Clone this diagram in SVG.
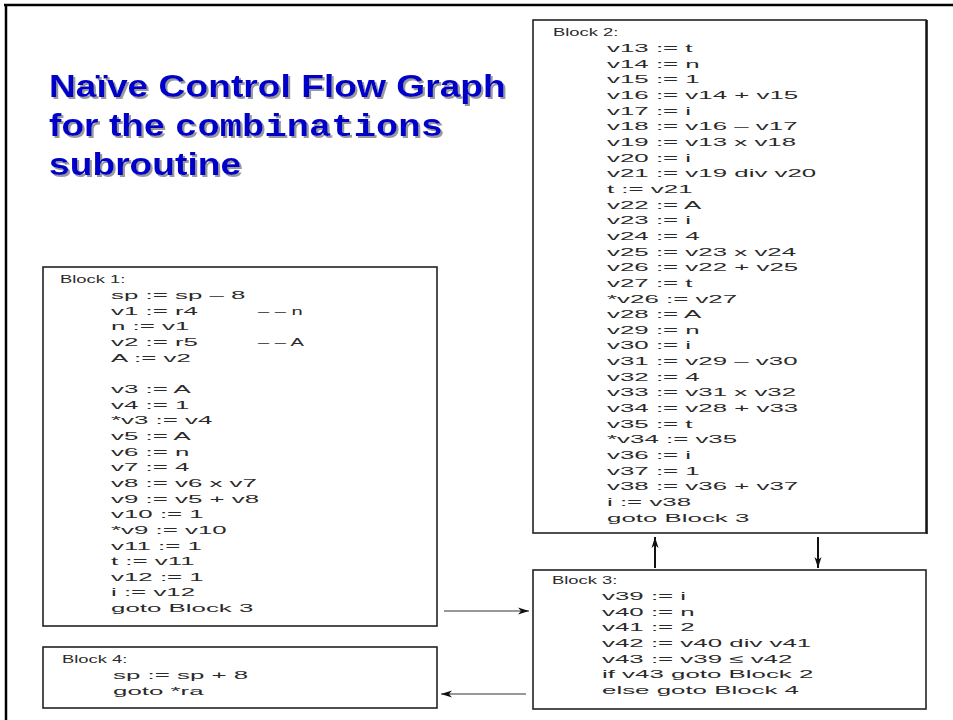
<svg xmlns="http://www.w3.org/2000/svg" width="953" height="720" viewBox="0 0 953 720">
<style>
.t{font-family:"Liberation Sans",Arial,sans-serif;font-size:11.5px;fill:#2a2a2a}
.box{fill:#fff;stroke:#222;stroke-width:1.6}
.cn{stroke:#333;stroke-width:1.2;fill:none}
.cnb{stroke:#111;stroke-width:2;fill:none}
.ti{font-family:"Liberation Sans",Arial,sans-serif;font-size:30.5px;font-weight:bold;fill:#0000c8}
.mono{font-family:"Liberation Mono","Courier New",monospace;font-weight:bold}
</style>
<defs>
<marker id="ah" markerWidth="12" markerHeight="8" refX="11" refY="4" orient="auto" markerUnits="userSpaceOnUse">
<path d="M0,0.5 L11,4 L0,7.5 L3,4 Z" fill="#111"/>
</marker>
<filter id="sh" x="-5%" y="-20%" width="110%" height="140%">
<feDropShadow dx="2" dy="2" stdDeviation="0.4" flood-color="#9a9a9a" flood-opacity="1"/>
</filter>
</defs>
<rect width="953" height="720" fill="#fff"/>
<path d="M4,5 H953 M6,4 V720" stroke="#000" stroke-width="2.5" fill="none"/>
<g id="title" filter="url(#sh)">
<g transform="translate(49,0) scale(1.22,1)">
<text class="ti" x="0" y="97">Naïve Control Flow Graph</text>
<text class="ti" x="0" y="136">for the <tspan class="mono">combinations</tspan></text>
<text class="ti" x="0" y="175">subroutine</text>
</g>
</g>
<g id="connectors">
<line class="cn" x1="444" y1="611" x2="529" y2="611" marker-end="url(#ah)"/>
<line class="cn" x1="526" y1="694" x2="441" y2="694" marker-end="url(#ah)"/>
<line class="cnb" x1="655" y1="568" x2="655" y2="537" marker-end="url(#ah)"/>
<line class="cnb" x1="818" y1="537" x2="818" y2="568" marker-end="url(#ah)"/>
</g>
<g id="block1">
<rect class="box" x="43" y="267" width="394" height="359"/>
<text class="t" transform="translate(60,0) scale(1.6,1)" x="0" y="283.5">Block 1:</text>
<g transform="translate(111,0) scale(2.25,1)">
<text class="t" x="0" y="299.2">sp := sp – 8</text>
<text class="t" x="0" y="314.8">v1 := r4</text>
<text class="t" x="0" y="330.5">n := v1</text>
<text class="t" x="0" y="346.1">v2 := r5</text>
<text class="t" x="0" y="361.8">A := v2</text>
<text class="t" x="0" y="393.1">v3 := A</text>
<text class="t" x="0" y="408.7">v4 := 1</text>
<text class="t" x="0" y="424.4">*v3 := v4</text>
<text class="t" x="0" y="440">v5 := A</text>
<text class="t" x="0" y="455.7">v6 := n</text>
<text class="t" x="0" y="471.3">v7 := 4</text>
<text class="t" x="0" y="487">v8 := v6 x v7</text>
<text class="t" x="0" y="502.6">v9 := v5 + v8</text>
<text class="t" x="0" y="518.3">v10 := 1</text>
<text class="t" x="0" y="533.9">*v9 := v10</text>
<text class="t" x="0" y="549.6">v11 := 1</text>
<text class="t" x="0" y="565.2">t := v11</text>
<text class="t" x="0" y="580.9">v12 := 1</text>
<text class="t" x="0" y="596.5">i := v12</text>
<text class="t" x="0" y="612.2">goto Block 3</text>
</g>
<g transform="translate(258,0) scale(1.75,1)">
<text class="t" x="0" y="314.8">– – n</text>
<text class="t" x="0" y="346.1">– – A</text>
</g>
</g>
<g id="block2">
<rect class="box" x="533" y="20" width="393" height="513" stroke="#555"/>
<line x1="927" y1="20" x2="927" y2="534" stroke="#000" stroke-width="1.5"/>
<text class="t" transform="translate(553,0) scale(1.6,1)" x="0" y="36.5">Block 2:</text>
<g transform="translate(607,0) scale(2.25,1)">
<text class="t" x="0" y="52.2">v13 := t</text>
<text class="t" x="0" y="67.8">v14 := n</text>
<text class="t" x="0" y="83.5">v15 := 1</text>
<text class="t" x="0" y="99.1">v16 := v14 + v15</text>
<text class="t" x="0" y="114.8">v17 := i</text>
<text class="t" x="0" y="130.4">v18 := v16 – v17</text>
<text class="t" x="0" y="146.1">v19 := v13 x v18</text>
<text class="t" x="0" y="161.7">v20 := i</text>
<text class="t" x="0" y="177.4">v21 := v19 div v20</text>
<text class="t" x="0" y="193">t := v21</text>
<text class="t" x="0" y="208.7">v22 := A</text>
<text class="t" x="0" y="224.3">v23 := i</text>
<text class="t" x="0" y="240">v24 := 4</text>
<text class="t" x="0" y="255.6">v25 := v23 x v24</text>
<text class="t" x="0" y="271.3">v26 := v22 + v25</text>
<text class="t" x="0" y="286.9">v27 := t</text>
<text class="t" x="0" y="302.6">*v26 := v27</text>
<text class="t" x="0" y="318.2">v28 := A</text>
<text class="t" x="0" y="333.9">v29 := n</text>
<text class="t" x="0" y="349.5">v30 := i</text>
<text class="t" x="0" y="365.2">v31 := v29 – v30</text>
<text class="t" x="0" y="380.8">v32 := 4</text>
<text class="t" x="0" y="396.5">v33 := v31 x v32</text>
<text class="t" x="0" y="412.1">v34 := v28 + v33</text>
<text class="t" x="0" y="427.8">v35 := t</text>
<text class="t" x="0" y="443.4">*v34 := v35</text>
<text class="t" x="0" y="459.1">v36 := i</text>
<text class="t" x="0" y="474.7">v37 := 1</text>
<text class="t" x="0" y="490.4">v38 := v36 + v37</text>
<text class="t" x="0" y="506">i := v38</text>
<text class="t" x="0" y="521.7">goto Block 3</text>
</g>
</g>
<g id="block3">
<rect class="box" x="533" y="570" width="393" height="139"/>
<text class="t" transform="translate(552,0) scale(1.6,1)" x="0" y="584.5">Block 3:</text>
<g transform="translate(602,0) scale(2.25,1)">
<text class="t" x="0" y="600.2">v39 := i</text>
<text class="t" x="0" y="615.8">v40 := n</text>
<text class="t" x="0" y="631.5">v41 := 2</text>
<text class="t" x="0" y="647.1">v42 := v40 div v41</text>
<text class="t" x="0" y="662.8">v43 := v39 ≤ v42</text>
<text class="t" x="0" y="678.4">if v43 goto Block 2</text>
<text class="t" x="0" y="694.1">else goto Block 4</text>
</g>
</g>
<g id="block4">
<rect class="box" x="43" y="647" width="394" height="61"/>
<text class="t" transform="translate(62,0) scale(1.6,1)" x="0" y="663.5">Block 4:</text>
<g transform="translate(113,0) scale(2.25,1)">
<text class="t" x="0" y="679.2">sp := sp + 8</text>
<text class="t" x="0" y="694.8">goto *ra</text>
</g>
</g>
</svg>
